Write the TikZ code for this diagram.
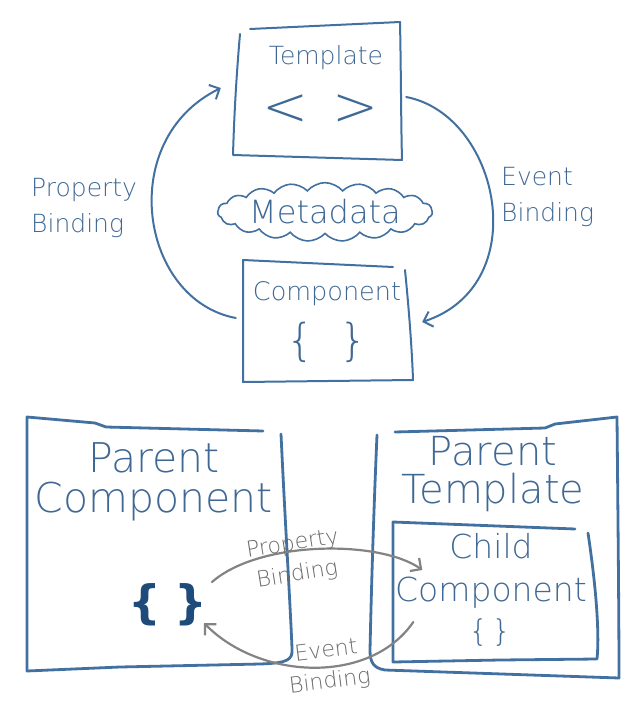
\documentclass[tikz,border=0pt]{standalone}
\usepackage{fontspec}
\setmainfont{DejaVu Sans}
\newfontfamily\thin{DejaVu Sans ExtraLight}
\usetikzlibrary{arrows.meta,shapes.symbols,calc}
\definecolor{sk}{HTML}{4270A0}
\definecolor{skt}{HTML}{3F6894}
\definecolor{dk}{HTML}{1F4B7A}
\definecolor{gr}{HTML}{838383}
\definecolor{grt}{HTML}{6A6A6A}
\begin{document}
\begin{tikzpicture}[x=1pt,y=-1pt,
  sketch/.style={draw=sk, line width=2pt, line cap=round, line join=round},
  heavy/.style={sketch, line width=2.8pt},
  boxarea/.style={draw=none, rectangle, inner sep=0pt},
  lbl/.style={text=skt, font=\thin\fontsize{25}{36}\selectfont, inner sep=0pt, align=left},
  big/.style={text=skt, font=\thin\fontsize{40}{40}\selectfont, align=center, inner sep=0pt},
  flow/.style={draw=sk, line width=2pt, line cap=round, -{Straight Barb[length=8pt,width=16pt]}},
  gflow/.style={draw=gr, line width=2.2pt, line cap=round, -{Straight Barb[length=8pt,width=16pt]}},
  glbl/.style={text=grt, font=\thin\fontsize{22}{31}\selectfont, align=center, inner sep=0pt},
]
\useasboundingbox (0,0) rectangle (644,712);

% ---------- top diagram ----------
\node[boxarea, minimum width=168pt, minimum height=134pt] (tmpl) at (318,91) {};
\node[boxarea, minimum width=170pt, minimum height=122pt] (comp) at (328,321) {};

\draw[sketch] (250,29) -- (400,22);
\draw[sketch] (240,34) .. controls (236,80) and (234,120) .. (233,155) -- (402,160);
\draw[sketch] (400,22) .. controls (401,70) and (401,120) .. (402,160);

\draw[sketch] (243,382) -- (243,260) -- (393,267);
\draw[sketch] (405,270) .. controls (409,310) and (412,350) .. (413,380) -- (243,382);

\node[lbl, font=\thin\fontsize{25}{28}\selectfont] (ttxt) at (326,58) {Template};
\node[text=skt, font=\thin\fontsize{55}{55}\selectfont, inner sep=0pt] (tsym) at (321,110) {<\hspace{24pt}>};
\node[lbl, font=\thin\fontsize{25.5}{28}\selectfont] (ctxt) at (327,294) {Component};
\node[text=skt, font=\thin\fontsize{44}{44}\selectfont, inner sep=0pt] (csym) at (327,342) {\{\hspace{26pt}\}};

\node[cloud, draw=sk, line width=1.6pt, cloud puffs=19, cloud puff arc=100, aspect=5,
      minimum width=210pt, minimum height=44pt, inner sep=0pt,
      text=skt, font=\thin\fontsize{32}{34}\selectfont] (meta) at (325,212) {Metadata};

\node[lbl, anchor=west] (pb) at (31,208) {Property\\Binding};
\node[lbl, anchor=west] (eb) at (501,197) {Event\\Binding};

\draw[flow] ($(comp.west)+(-7,-3)$) .. controls (140,300) and (115,140) .. ($(tmpl.west)+(-13,-3)$);
\draw[flow] ($(tmpl.east)+(4,6)$) .. controls (500,115) and (535,285) .. ($(comp.east)+(9,1)$);

% ---------- bottom diagram ----------
\node[boxarea, minimum width=262pt, minimum height=254pt] (pcomp) at (156,544) {};
\node[boxarea, minimum width=244pt, minimum height=258pt] (ptmpl) at (496,546) {};
\node[boxarea, minimum width=205pt, minimum height=138pt] (child) at (495,591) {};

\draw[heavy] (281,434) .. controls (285,520) and (290,600) .. (292,648)
   .. controls (293,660) and (288,663) .. (260,664) -- (120,667) -- (27,671)
   -- (27,417) -- (95,423) -- (106,427) -- (263,431);

\draw[heavy] (395,432) -- (545,428) -- (555,424) -- (617,417)
   .. controls (618,520) and (619,620) .. (619,678) -- (385,670)
   .. controls (373,668) and (370,662) .. (370,650)
   .. controls (372,560) and (375,480) .. (377,435);

\draw[heavy] (575,529) -- (393,522) -- (393,662) -- (500,660) -- (597,659)
   .. controls (599,640) and (598,600) .. (588,533);

\node[big, font=\thin\fontsize{41}{40}\selectfont] (pctxt) at (154,482) {Parent\\Component};
\node[text=dk, font=\bfseries\fontsize{46}{46}\selectfont, inner sep=0pt] (pbr) at (168,605) {\{\hspace{14pt}\}};
\node[big, font=\thin\fontsize{40}{38}\selectfont] (pttxt) at (493,474) {Parent\\Template};
\node[big, font=\thin\fontsize{33}{43}\selectfont] (chtxt) at (491,571) {Child\\Component};
\node[text=skt, font=\thin\fontsize{30}{30}\selectfont, inner sep=0pt] (chbr) at (490,633) {\{\hspace{4pt}\}};

\draw[gflow] ($(pbr)+(44,-23)$) .. controls (260,540) and (380,540) .. ($(child.west)+(30,-21)$);
\draw[gflow] ($(child.west)+(21,31)$) .. controls (370,685) and (260,680) .. ($(pbr)+(36,18)$);

\node[glbl, rotate=9] (gpb) at (295,560) {Property\\Binding};
\node[glbl, rotate=7] (geb) at (328,667) {Event\\Binding};
\end{tikzpicture}
\end{document}
